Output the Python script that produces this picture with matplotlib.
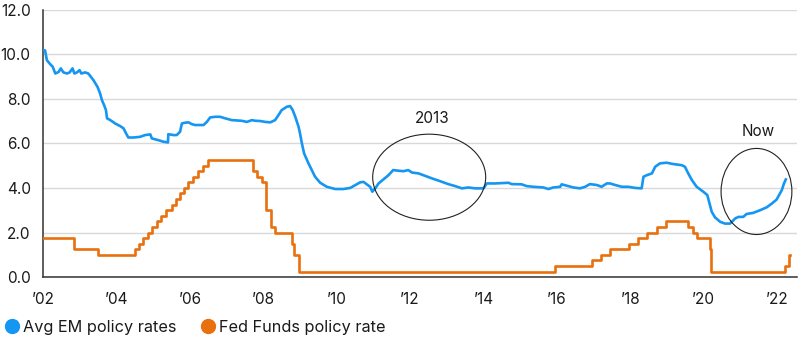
import matplotlib
matplotlib.use("Agg")
import matplotlib.pyplot as plt
from matplotlib.patches import Ellipse
from matplotlib.lines import Line2D

plt.rcParams['font.family'] = ['Inter', 'DejaVu Sans']

# Average emerging-market policy rate (%), decimal-year dates
em_dates = [
    2002.01, 2002.05, 2002.10, 2002.19, 2002.26, 2002.33, 2002.42, 2002.48, 2002.55, 2002.65,
    2002.72, 2002.80, 2002.85, 2002.92, 2002.99, 2003.04, 2003.14, 2003.23, 2003.30, 2003.37,
    2003.42, 2003.48, 2003.55, 2003.60, 2003.66, 2003.71, 2003.74, 2003.83, 2003.90, 2003.96,
    2004.10, 2004.19, 2004.26, 2004.32, 2004.46, 2004.64, 2004.78, 2004.92, 2004.96, 2005.14,
    2005.28, 2005.40, 2005.41, 2005.55, 2005.64, 2005.73, 2005.78, 2005.85, 2005.96, 2006.05,
    2006.14, 2006.37, 2006.46, 2006.55, 2006.69, 2006.82, 2006.96, 2007.14, 2007.41, 2007.55,
    2007.69, 2007.78, 2007.91, 2008.05, 2008.19, 2008.32, 2008.41, 2008.50, 2008.64, 2008.73,
    2008.80, 2008.87, 2008.96, 2009.00, 2009.05, 2009.11, 2009.17, 2009.23, 2009.32, 2009.41,
    2009.55, 2009.73, 2009.96, 2010.18, 2010.37, 2010.50, 2010.59, 2010.64, 2010.73, 2010.82,
    2010.91, 2010.97, 2011.05, 2011.14, 2011.27, 2011.41, 2011.54, 2011.68, 2011.82, 2011.95,
    2012.05, 2012.23, 2012.41, 2012.59, 2012.82, 2013.04, 2013.23, 2013.41, 2013.59, 2013.77,
    2014.00, 2014.09, 2014.32, 2014.68, 2014.77, 2015.04, 2015.18, 2015.36, 2015.63, 2015.77,
    2015.90, 2016.09, 2016.13, 2016.27, 2016.45, 2016.63, 2016.77, 2016.90, 2017.09, 2017.22,
    2017.36, 2017.45, 2017.59, 2017.77, 2017.95, 2018.13, 2018.31, 2018.36, 2018.45, 2018.59,
    2018.68, 2018.81, 2018.99, 2019.17, 2019.40, 2019.49, 2019.58, 2019.68, 2019.81, 2019.99,
    2020.10, 2020.16, 2020.22, 2020.31, 2020.45, 2020.58, 2020.72, 2020.86, 2020.95, 2021.08,
    2021.17, 2021.35, 2021.54, 2021.72, 2021.86, 2021.99, 2022.13, 2022.19, 2022.24,
]
em_rates = [
    10.17, 10.17, 9.73, 9.55, 9.43, 9.13, 9.20, 9.36, 9.18, 9.13,
    9.18, 9.36, 9.13, 9.18, 9.28, 9.13, 9.18, 9.13, 8.98, 8.83,
    8.69, 8.53, 8.24, 7.94, 7.71, 7.49, 7.12, 7.04, 6.96, 6.89,
    6.77, 6.67, 6.44, 6.26, 6.26, 6.29, 6.37, 6.40, 6.22, 6.14,
    6.07, 6.04, 6.41, 6.37, 6.37, 6.52, 6.89, 6.92, 6.94, 6.86,
    6.82, 6.82, 6.96, 7.16, 7.19, 7.19, 7.12, 7.04, 7.01, 6.96,
    7.04, 7.01, 7.00, 6.96, 6.94, 7.04, 7.26, 7.49, 7.64, 7.67,
    7.49, 7.19, 6.74, 6.44, 6.00, 5.55, 5.32, 5.10, 4.80, 4.50,
    4.23, 4.05, 3.95, 3.95, 4.00, 4.12, 4.20, 4.25, 4.27, 4.16,
    4.05, 3.83, 3.98, 4.20, 4.38, 4.57, 4.80, 4.77, 4.75, 4.80,
    4.69, 4.65, 4.54, 4.43, 4.30, 4.17, 4.08, 3.98, 4.02, 3.98,
    3.98, 4.20, 4.20, 4.23, 4.17, 4.16, 4.08, 4.05, 4.02, 3.95,
    4.02, 4.05, 4.16, 4.10, 4.02, 3.98, 4.05, 4.17, 4.13, 4.05,
    4.20, 4.20, 4.13, 4.05, 4.05, 4.00, 3.98, 4.50, 4.57, 4.65,
    4.95, 5.10, 5.13, 5.07, 5.02, 4.95, 4.65, 4.35, 4.05, 3.83,
    3.68, 3.30, 2.93, 2.68, 2.48, 2.40, 2.40, 2.63, 2.70, 2.70,
    2.83, 2.88, 3.00, 3.13, 3.30, 3.48, 3.90, 4.20, 4.38,
]

# Fed Funds target rate (upper bound, %), value in force from each date
fed_dates = [
    2002.00, 2002.85, 2003.48, 2004.49, 2004.61, 2004.72, 2004.86, 2004.96, 2005.09, 2005.22,
    2005.34, 2005.50, 2005.61, 2005.72, 2005.84, 2005.96, 2006.08, 2006.22, 2006.36, 2006.49,
    2007.71, 2007.83, 2007.95, 2008.06, 2008.08, 2008.21, 2008.33, 2008.77, 2008.83, 2008.96,
    2015.96, 2016.96, 2017.21, 2017.46, 2017.96, 2018.22, 2018.46, 2018.74, 2018.97, 2019.58,
    2019.71, 2019.83, 2020.17, 2020.21, 2022.21, 2022.34, 2022.36,
]
fed_rates = [
    1.75, 1.25, 1.00, 1.25, 1.50, 1.75, 2.00, 2.25, 2.50, 2.75,
    3.00, 3.25, 3.50, 3.75, 4.00, 4.25, 4.50, 4.75, 5.00, 5.25,
    4.75, 4.50, 4.25, 3.50, 3.00, 2.25, 2.00, 1.50, 1.00, 0.25,
    0.50, 0.75, 1.00, 1.25, 1.50, 1.75, 2.00, 2.25, 2.50, 2.25,
    2.00, 1.75, 1.25, 0.25, 0.50, 1.00, 1.00,
]

tick_years = [2002, 2004, 2006, 2008, 2010, 2012, 2014, 2016, 2018, 2020, 2022]
tick_labels = ["\u201902", "\u201904", "\u201906", "\u201908", "\u201910", "\u201912",
               "\u201914", "\u201916", "\u201918", "\u201920", "\u201922"]
y_ticks = [0, 2, 4, 6, 8, 10, 12]

series_names = ["Avg EM policy rates", "Fed Funds policy rate"]
em_color = "#1496f2"
fed_color = "#e8700f"
text_color = "#1a1a1a"

fig = plt.figure(figsize=(8, 3.4), dpi=100)
ax = fig.add_axes([0.054, 0.185, 0.9425, 0.787])

ax.plot(em_dates, em_rates, color=em_color, lw=1.9, solid_joinstyle="round", zorder=3)
ax.plot(fed_dates, fed_rates, color=fed_color, lw=1.9, drawstyle="steps-post", zorder=3)

ax.set_xlim(2002.0, 2022.55)
ax.set_ylim(0, 12)
ax.set_yticks(y_ticks)
ax.set_yticklabels([f"{v:.1f}" for v in y_ticks])
ax.set_xticks(tick_years)
ax.set_xticklabels(tick_labels)

ax.grid(axis="y", color="#d9d9d9", lw=1.0)
ax.set_axisbelow(True)
for s in ["top", "right"]:
    ax.spines[s].set_visible(False)
for s in ["left", "bottom"]:
    ax.spines[s].set_color("#333333")
    ax.spines[s].set_linewidth(1.1)
ax.tick_params(axis="both", length=0, labelsize=11, colors=text_color)
ax.tick_params(axis="y", pad=9)
ax.tick_params(axis="x", pad=11)

# Highlight circles with labels
ax.add_patch(Ellipse((2012.52, 4.48), 3.08, 3.86, fill=False, ec="#222222", lw=0.8, zorder=4))
ax.text(2012.6, 7.13, "2013", ha="center", va="center", fontsize=11, color=text_color)
ax.add_patch(Ellipse((2021.44, 3.84), 1.93, 3.86, fill=False, ec="#222222", lw=0.8, zorder=4))
ax.text(2021.48, 6.52, "Now", ha="center", va="center", fontsize=11, color=text_color)

handles = [
    Line2D([], [], ls="", marker="o", markersize=10, color=em_color),
    Line2D([], [], ls="", marker="o", markersize=10, color=fed_color),
]
fig.legend(handles, series_names, loc="center left", bbox_to_anchor=(-0.012, 0.038),
           ncol=2, frameon=False, fontsize=11.7, handlelength=0.8, handletextpad=0.3,
           columnspacing=1.55, labelcolor=text_color)

fig.savefig("out.png", dpi=100)
